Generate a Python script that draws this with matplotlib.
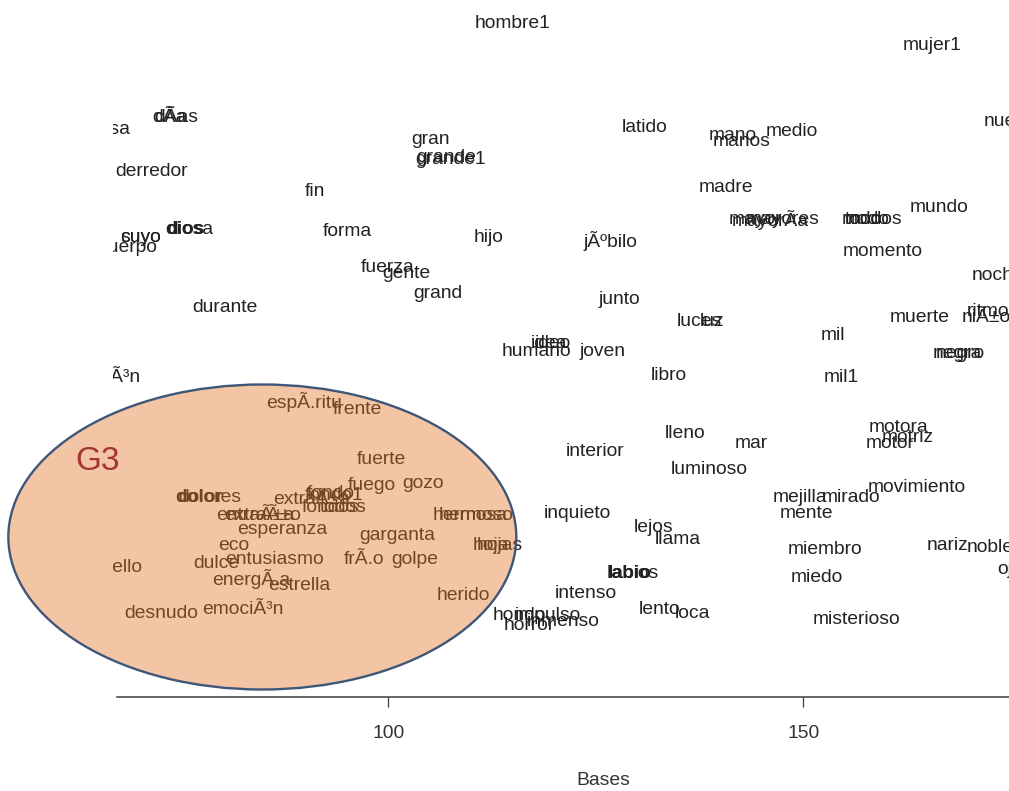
import matplotlib
matplotlib.use("Agg")
import matplotlib.pyplot as plt
from matplotlib.patches import Ellipse
from matplotlib.transforms import ScaledTranslation

plt.rcParams["font.family"] = ["Liberation Sans", "DejaVu Sans"]

# Word map: each word placed by its "Bases" value (x) and a second score (y)
words = [
    "hombre1", "mujer1", "cosa", "dÃa", "dÃas", "derredor", "gran", "grande",
    "grande1", "fin", "forma", "hijo", "cuerpo", "cuyo", "suyo", "dios", "diosa",
    "fuerza", "gente", "grand", "durante", "jÃºbilo", "latido", "mano", "manos",
    "medio", "madre", "mayor", "mayorÃa", "mayores", "modo", "modos", "todo",
    "mundo", "momento", "nuevo", "noche", "muerte", "niÃ±o", "ritmo", "mil",
    "mil1", "negro", "negra", "junto", "luces", "luz", "idea", "ideo", "humano",
    "joven", "libro", "corazÃ³n",
    "espÃ.ritu", "frente", "fuerte", "fuego", "gozo", "dolor", "dolores",
    "extraÃ±a", "fondo", "fondo1", "fondos", "todos", "entraÃ±a", "extraÃ±o",
    "esperanza", "eco", "garganta", "dulce", "entusiasmo", "cabello", "frÃ.o",
    "golpe", "energÃ.a", "estrella", "herido", "desnudo", "emociÃ³n",
    "hermosa", "hermoso", "hoja", "hojas",
    "hondo", "impulso", "horror", "inmenso", "intenso", "inquieto", "interior",
    "lleno", "mar", "luminoso", "lejos", "llama", "labio", "labios", "lento",
    "loca", "motora", "motriz", "motor", "movimiento", "mejilla", "mirado",
    "mente", "miembro", "miedo", "misterioso", "nariz", "noble", "ojos",
]

bases = [
    114.9, 165.5, 66.4, 73.6, 74.4, 71.5, 105.1, 106.9,
    107.5, 91.1, 95.1, 112.0, 68.6, 70.1, 70.2, 75.5, 76.1,
    99.9, 102.1, 106.0, 80.3, 126.7, 130.8, 141.5, 142.5,
    148.6, 140.7, 144.2, 146.0, 147.5, 157.5, 158.4, 157.2,
    166.3, 159.5, 174.9, 173.4, 164.0, 172.0, 172.2, 153.6,
    154.5, 168.9, 168.5, 127.8, 137.5, 139.0, 119.3, 119.8, 117.8,
    125.8, 133.8, 65.5,
    89.8, 96.2, 99.1, 98.0, 104.2, 77.2, 78.5,
    90.7, 93.0, 93.4, 93.0, 94.6, 83.9, 84.8,
    87.2, 81.4, 101.1, 79.2, 86.2, 66.7, 97.0,
    103.1, 83.4, 89.2, 109.0, 72.6, 82.4,
    109.8, 110.5, 112.3, 113.4,
    115.8, 119.2, 117.0, 121.0, 123.8, 122.8, 124.9,
    135.7, 143.7, 138.6, 131.9, 134.8, 129.0, 129.6, 132.7,
    136.6, 161.4, 162.5, 160.4, 163.6, 149.6, 155.7,
    150.4, 152.6, 151.6, 156.4, 167.4, 172.5, 175.5,
]

scores = [
    67.5, 65.3, 56.9, 58.1, 58.1, 52.7, 55.9, 54.1,
    53.9, 50.7, 46.8, 46.1, 45.2, 46.1, 46.2, 46.9, 46.9,
    43.2, 42.6, 40.6, 39.2, 45.8, 57.1, 56.3, 55.8,
    56.7, 51.1, 47.9, 47.9, 47.9, 47.9, 47.9, 47.9,
    49.1, 44.7, 57.8, 42.3, 38.1, 38.1, 38.8, 36.4,
    32.1, 34.5, 34.5, 39.9, 37.7, 37.7, 35.6, 35.6, 34.7,
    34.8, 32.4, 32.1,
    29.7, 28.9, 24.0, 21.4, 21.6, 20.2, 20.2,
    20.0, 20.5, 20.4, 19.2, 19.2, 18.3, 18.3,
    16.9, 15.4, 16.4, 13.6, 14.0, 13.2, 14.0,
    14.0, 12.0, 11.3, 10.4, 8.5, 8.9,
    18.4, 18.4, 15.4, 15.4,
    8.3, 8.3, 7.3, 7.7, 10.6, 18.5, 24.8,
    26.5, 25.6, 23.0, 17.1, 16.0, 12.6, 12.6, 9.0,
    8.5, 27.1, 26.1, 25.5, 21.2, 20.1, 20.1,
    18.6, 14.9, 12.1, 7.9, 15.3, 15.1, 13.0,
]

bold_words = ["dios", "dolor", "labio"]

# Group G3 drawn as an ellipse: centre, width and height in data units
g3_center = (84.8, 16.0)
g3_width = 61.2
g3_height = 30.5
g3_label = "G3"

xticks = [100, 150]
xlabel = "Bases"

W, H = 1009, 791
fig = plt.figure(figsize=(W / 100, H / 100), dpi=100)
fig.patch.set_facecolor("white")
ax = fig.add_axes([113 / W, (H - 697) / H, (W - 113) / W, 697 / H])
ax.set_facecolor("white")

ax.set_xlim(66.81, 174.76)
ax.set_ylim(0, 69.7)

# small downward nudge so the label's visual centre sits on its point
nudge = ScaledTranslation(0, -2 / 100, fig.dpi_scale_trans)
for w, x, y in zip(words, bases, scores):
    ax.text(x, y, w, ha="center", va="center", fontsize=13.9,
            color="#222222",
            fontweight="bold" if w in bold_words else "normal",
            transform=ax.transData + nudge,
            clip_on=True, zorder=2)

ell = Ellipse(g3_center, g3_width, g3_height,
              facecolor=(228 / 255, 117 / 255, 39 / 255, 0.42),
              edgecolor="#3e5677", linewidth=1.7, clip_on=False, zorder=3)
ax.add_patch(ell)
ax.text(g3_center[0] - 19.9, g3_center[1] + 7.5, g3_label, fontsize=24,
        color="#a33434", ha="center", va="center", clip_on=False, zorder=4)

for s in ["top", "left", "right"]:
    ax.spines[s].set_visible(False)
ax.spines["bottom"].set_color("#4a4a4a")
ax.spines["bottom"].set_linewidth(1.2)
ax.spines["bottom"].set_bounds(67.3, 174.76)

ax.set_yticks([])
ax.set_xticks(xticks)
ax.set_xticklabels([str(t) for t in xticks])
ax.tick_params(axis="x", length=7, width=1.0, color="#4a4a4a", pad=13.5,
               labelsize=13.9, labelcolor="#333333")
ax.set_xlabel(xlabel, fontsize=13.9, color="#333333")
ax.xaxis.set_label_coords((603 - 113) / (W - 113), (697 - 772) / 697)

fig.savefig("out.png", dpi=100, facecolor="white")
